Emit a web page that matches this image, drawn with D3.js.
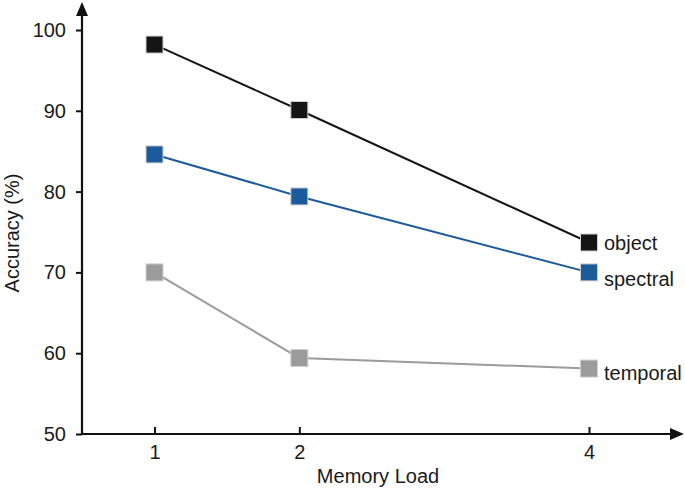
<html>
<meta charset="utf-8" />
<head>
<title>Accuracy by memory load</title>
<script src="https://cdn.jsdelivr.net/npm/d3@7" type="text/javascript"></script>
<style>
	body { margin: 0; background: #fff; }
	text { font-family: "Liberation Sans", Arial, sans-serif; fill: #1a1a1a; }
</style>
<script>

// data
let loads = [1, 2, 4];
let objectAcc = [98.2, 90.1, 73.7];
let spectralAcc = [84.6, 79.4, 70.0];
let temporalAcc = [70.0, 59.4, 58.1];
let seriesNames = ['object', 'spectral', 'temporal'];
let seriesColors = ['#151515', '#1b5a9b', '#9b9b9b'];
let yTicks = [50, 60, 70, 80, 90, 100];

window.onload = function() {
	let svg = d3.select('svg');
	let fs = '20px';

	let x = d3.scaleLinear().domain([1, 4]).range([154.5, 589]);
	let y = d3.scaleLinear().domain([50, 100]).range([434, 30]);

	// y axis
	let yAxis = svg.append('g')
		.attr('transform', 'translate(82,0)')
		.call(d3.axisLeft(y).tickValues(yTicks).tickSize(6).tickPadding(10));
	yAxis.select('.domain').remove();
	yAxis.selectAll('line').attr('stroke', '#111').attr('stroke-width', 2);
	yAxis.selectAll('text').style('font-size', fs).attr('fill', '#1a1a1a');

	svg.append('line')
		.attr('x1', 82).attr('x2', 82)
		.attr('y1', 435).attr('y2', 14)
		.attr('stroke', '#111').attr('stroke-width', 2.2);
	svg.append('path')
		.attr('d', 'M82,2 L76,16 L88,16 Z')
		.attr('fill', '#111');

	// x axis (ticks point inward)
	let xAxis = svg.append('g')
		.attr('transform', 'translate(0,434)')
		.call(d3.axisBottom(x).tickValues(loads).tickFormat(d3.format('d')).tickSize(-7).tickPadding(11));
	xAxis.select('.domain').remove();
	xAxis.selectAll('line').attr('stroke', '#111').attr('stroke-width', 2);
	xAxis.selectAll('text').style('font-size', fs).attr('fill', '#1a1a1a');

	svg.append('line')
		.attr('x1', 81).attr('x2', 672)
		.attr('y1', 434).attr('y2', 434)
		.attr('stroke', '#111').attr('stroke-width', 2.2);
	svg.append('path')
		.attr('d', 'M684,434 L670,428 L670,440 Z')
		.attr('fill', '#111');

	// axis titles
	svg.append('text')
		.attr('x', 378).attr('y', 483)
		.attr('text-anchor', 'middle')
		.style('font-size', fs)
		.text('Memory Load');
	svg.append('text')
		.attr('transform', 'translate(19,233) rotate(-90)')
		.attr('text-anchor', 'middle')
		.style('font-size', fs)
		.text('Accuracy (%)');

	// series
	let allSeries = [objectAcc, spectralAcc, temporalAcc];
	let line = d3.line()
		.x(function(d, i) { return x(loads[i]); })
		.y(function(d) { return y(d); });

	allSeries.forEach(function(vals, s) {
		svg.append('path')
			.datum(vals)
			.attr('d', line)
			.attr('fill', 'none')
			.attr('stroke', seriesColors[s])
			.attr('stroke-width', 2);

		svg.selectAll('rect.s' + s)
			.data(vals)
			.enter()
			.append('rect')
			.attr('class', 's' + s)
			.attr('x', function(d, i) { return x(loads[i]) - 8.5; })
			.attr('y', function(d) { return y(d) - 8.5; })
			.attr('width', 17)
			.attr('height', 17)
			.attr('fill', seriesColors[s])
			.attr('stroke', '#cfcfcf')
			.attr('stroke-width', 1);
	});

	// end labels
	let labelOffsets = [0, 7, 4];
	seriesNames.forEach(function(name, s) {
		let vals = allSeries[s];
		svg.append('text')
			.attr('x', x(loads[loads.length - 1]) + 15)
			.attr('y', y(vals[vals.length - 1]) + labelOffsets[s])
			.attr('dy', '0.35em')
			.style('font-size', fs)
			.text(name);
	});
}

</script>
</head>
<body>
	<svg width="685" height="488"></svg>
</body>
</html>
